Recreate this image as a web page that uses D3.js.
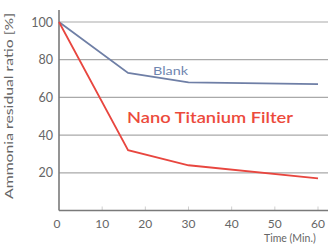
<!DOCTYPE html>
<html>
<head>
<meta charset="utf-8">
<script src="https://cdn.jsdelivr.net/npm/d3@7"></script>
<style>
  body { margin: 0; background: #fff; }
  text { font-family: "Lato", "Open Sans", sans-serif; }
</style>
</head>
<body>
<svg id="chart"></svg>
<script>
const minutes = [0, 16, 30, 60]
const blank = [100, 73, 68, 67]
const nanoFilter = [100, 32, 24, 17]
const xTicks = [0, 10, 20, 30, 40, 50, 60]
const yTicks = [20, 40, 60, 80, 100]

const width = 328
const height = 245
const margin = { top: 22, right: 10, bottom: 35, left: 59 }

const svg = d3.select("#chart")
  .attr("width", width)
  .attr("height", height)

// 0..60 min maps 59 -> 318
let x = d3.scaleLinear()
  .domain([0, 60])
  .range([margin.left, 318])

let y = d3.scaleLinear()
  .domain([0, 100])
  .range([210.5, 22])

// grid lines
svg.append("g")
  .selectAll("line")
  .data(yTicks)
  .enter()
  .append("line")
  .attr("x1", margin.left)
  .attr("x2", width)
  .attr("y1", d => y(d))
  .attr("y2", d => y(d))
  .attr("stroke", "#a9a9a9")
  .attr("stroke-width", 1.2)

// small ticks on x axis
svg.append("g")
  .selectAll("line")
  .data(xTicks.slice(1))
  .enter()
  .append("line")
  .attr("x1", d => x(d))
  .attr("x2", d => x(d))
  .attr("y1", y(0))
  .attr("y2", y(0) - 4)
  .attr("stroke", "#cfcfcf")

// axes
svg.append("line")
  .attr("x1", margin.left).attr("x2", margin.left)
  .attr("y1", 10).attr("y2", y(0))
  .attr("stroke", "#7a7a7a").attr("stroke-width", 1.6)

svg.append("line")
  .attr("x1", margin.left).attr("x2", width)
  .attr("y1", y(0)).attr("y2", y(0))
  .attr("stroke", "#7a7a7a").attr("stroke-width", 1.6)

// tick labels
svg.append("g")
  .selectAll("text")
  .data(yTicks)
  .enter()
  .append("text")
  .attr("x", margin.left - 6)
  .attr("y", d => y(d) + 4.5)
  .attr("text-anchor", "end")
  .attr("font-size", 12.5)
  .attr("fill", "#666")
  .text(d => d)

svg.append("g")
  .selectAll("text")
  .data(xTicks)
  .enter()
  .append("text")
  .attr("x", (d, i) => x(d) - (i == 0 ? 2 : 0))
  .attr("y", 228)
  .attr("text-anchor", "middle")
  .attr("font-size", 12)
  .attr("fill", "#666")
  .text(d => d)

svg.append("text")
  .attr("x", 264)
  .attr("y", 242)
  .attr("font-size", 10.5)
  .attr("fill", "#666")
  .text("Time (Min.)")

svg.append("text")
  .attr("transform", "translate(13, 106) rotate(-90)")
  .attr("text-anchor", "middle")
  .attr("font-size", 12)
  .attr("fill", "#666")
  .attr("textLength", 186)
  .attr("lengthAdjust", "spacingAndGlyphs")
  .text("Ammonia residual ratio [%]")

// lines
let line = d3.line()
  .x((d, i) => x(minutes[i]))
  .y(d => y(d))

svg.append("path")
  .attr("d", line(blank))
  .attr("fill", "none")
  .attr("stroke", "#6f7fa6")
  .attr("stroke-width", 1.8)

svg.append("path")
  .attr("d", line(nanoFilter))
  .attr("fill", "none")
  .attr("stroke", "#e8463f")
  .attr("stroke-width", 1.8)

// labels
svg.append("text")
  .attr("x", 153)
  .attr("y", 75)
  .attr("font-size", 11)
  .attr("fill", "#6f86b0")
  .attr("textLength", 35)
  .attr("lengthAdjust", "spacingAndGlyphs")
  .text("Blank")

svg.append("text")
  .attr("x", 127)
  .attr("y", 123)
  .attr("font-size", 15)
  .attr("font-weight", "600")
  .attr("fill", "#ec4a3c")
  .attr("textLength", 166)
  .attr("lengthAdjust", "spacingAndGlyphs")
  .text("Nano Titanium Filter")
</script>
</body>
</html>
